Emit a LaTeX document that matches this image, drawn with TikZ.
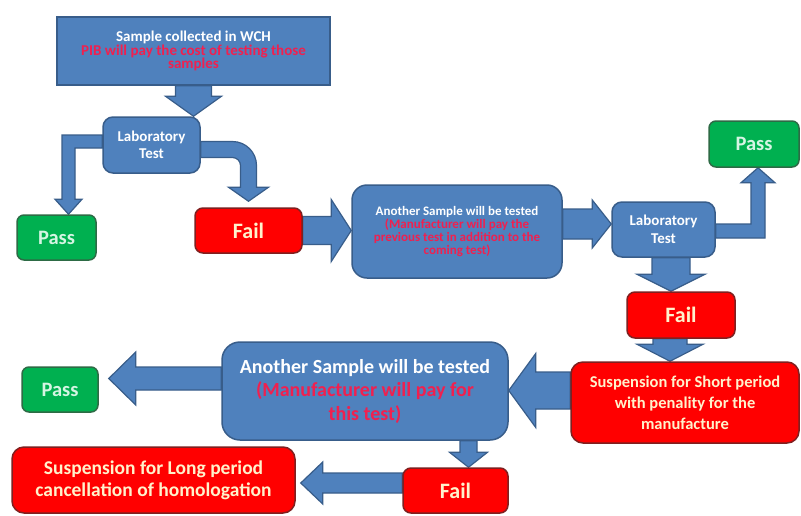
\documentclass[tikz,border=0pt]{standalone}
\usepackage{fontspec}
\setmainfont{Carlito}
\usetikzlibrary{calc,backgrounds}

\definecolor{boxblue}{HTML}{4F81BD}
\definecolor{edgeblue}{HTML}{385D8A}
\definecolor{boxred}{HTML}{FF0000}
\definecolor{edgered}{HTML}{7F2020}
\definecolor{boxgreen}{HTML}{00B050}
\definecolor{edgegreen}{HTML}{2D6B45}
\definecolor{notered}{HTML}{F0204F}
\definecolor{cream}{HTML}{FFF2CC}
\definecolor{mint}{HTML}{D5F5E3}

\newcommand{\tightlines}{\setlength{\lineskiplimit}{-20pt}}

\tikzstyle{bluebox} = [draw=edgeblue, fill=boxblue, line width=1.5pt, rounded corners=10pt, align=center, text=white, inner sep=2pt]
\tikzstyle{passbox} = [draw=edgegreen, fill=boxgreen, line width=1.5pt, rounded corners=7pt, text=mint, font=\bfseries\fontsize{20.5}{24}\selectfont]
\tikzstyle{failbox} = [draw=edgered, fill=boxred, line width=1.5pt, rounded corners=8pt, align=center, text=cream, inner sep=2pt, font=\bfseries\fontsize{22}{26}\selectfont]
\tikzstyle{barrow} = [draw=edgeblue, fill=boxblue, line width=1.2pt, line join=miter]

% block arrow: start, tip, shaft half width, head half width, head length
\newcommand{\blockarrow}[5]{%
  \draw[barrow] let \p1=(#1), \p2=(#2), \n1={veclen(\x2-\x1,\y2-\y1)},
      \n2={(\x2-\x1)/\n1}, \n3={(\y2-\y1)/\n1} in
    ({\x1-(\n3)*#3pt},{\y1+(\n2)*#3pt}) --
    ({\x2-(\n2)*#5pt-(\n3)*#3pt},{\y2-(\n3)*#5pt+(\n2)*#3pt}) --
    ({\x2-(\n2)*#5pt-(\n3)*#4pt},{\y2-(\n3)*#5pt+(\n2)*#4pt}) --
    (\p2) --
    ({\x2-(\n2)*#5pt+(\n3)*#4pt},{\y2-(\n3)*#5pt-(\n2)*#4pt}) --
    ({\x2-(\n2)*#5pt+(\n3)*#3pt},{\y2-(\n3)*#5pt-(\n2)*#3pt}) --
    ({\x1+(\n3)*#3pt},{\y1-(\n2)*#3pt}) -- cycle;}

\begin{document}
\begin{tikzpicture}[x=1pt,y=-1pt]
	\useasboundingbox (0,0) rectangle (801,515);

	\node[bluebox, rounded corners=0pt, minimum width=273pt, minimum height=68pt, font=\bfseries\fontsize{15}{13.5}\selectfont\tightlines] (wch) at (193.5,51) {Sample collected in WCH\\\textcolor{notered}{PIB will pay the cost of testing those}\\\textcolor{notered}{samples}};
	\node[bluebox, minimum width=97pt, minimum height=56pt, font=\bfseries\fontsize{15}{17.5}\selectfont] (lab1) at (151.5,145) {Laboratory\\Test};
	\node[passbox, minimum width=79pt, minimum height=45pt] (pass1) at (56.5,237.5) {Pass};
	\node[failbox, minimum width=107pt, minimum height=45pt] (fail1) at (248.5,230.5) {Fail};
	\node[bluebox, rounded corners=15pt, minimum width=210pt, minimum height=93pt, font=\bfseries\fontsize{13}{13}\selectfont] (retest1) at (457,231.5) {Another Sample will be tested\\\textcolor{notered}{(Manufacturer will pay the}\\\textcolor{notered}{previous test in addition to the}\\\textcolor{notered}{coming test)}};
	\node[bluebox, minimum width=103pt, minimum height=55pt, font=\bfseries\fontsize{15}{17.5}\selectfont] (lab2) at (663.5,229.5) {Laboratory\\Test};
	\node[passbox, minimum width=90pt, minimum height=46pt] (pass2) at (754,144) {Pass};
	\node[failbox, minimum width=108pt, minimum height=46pt] (fail2) at (681,315) {Fail};
	\node[failbox, rounded corners=12pt, minimum width=228pt, minimum height=81pt, font=\bfseries\fontsize{16.5}{21}\selectfont] (shortsus) at (685,402.5) {Suspension for Short period\\with penality for the\\manufacture};
	\node[bluebox, rounded corners=18pt, minimum width=286pt, minimum height=98pt, font=\bfseries\fontsize{20}{23.5}\selectfont] (retest2) at (365,391) {Another Sample will be tested\\\textcolor{notered}{(Manufacturer will pay for}\\\textcolor{notered}{this test)}};
	\node[passbox, minimum width=76pt, minimum height=45pt] (pass3) at (60,389.5) {Pass};
	\node[failbox, minimum width=105pt, minimum height=45pt] (fail3) at (455.5,490.5) {Fail};
	\node[failbox, rounded corners=12pt, minimum width=283pt, minimum height=66pt, font=\bfseries\fontsize{19.5}{22}\selectfont] (longsus) at (153.5,480) {Suspension for Long period\\cancellation of homologation};

	\begin{scope}[on background layer]
	\fill[white] (0,0) rectangle (801,515);

	\blockarrow{wch.south}{wch.south |- lab1.north}{18}{28}{20}
	\draw[barrow] let \p1=($(lab1.west)+(0,-3.5)$), \p2=($(pass1.north)+(12,0)$) in
		(\x1,\y1+6.5pt) -- (\x2-6.5pt,\y1+6.5pt) -- (\x2-6.5pt,\y2+15pt) -- (\x2-13.5pt,\y2+15pt) -- (\p2)
		-- (\x2+13.5pt,\y2+15pt) -- (\x2+6.5pt,\y2+15pt) -- (\x2+6.5pt,\y1-6.5pt) -- (\x1,\y1-6.5pt) -- cycle;
	\draw[barrow] let \p1=($(lab1.east)+(0,4.5)$), \p2=($(fail1.north)+(0,-6)$) in
		(\x1,\y1+8pt) -- (\x2-16pt,\y1+8pt) .. controls (\x2-2.75pt,\y1+8pt) and (\x2+8pt,\y1-2.75pt) .. (\x2+8pt,\y1-16pt)
		-- (\x2+8pt,\y2+14pt) -- (\x2+20pt,\y2+14pt) -- (\p2) -- (\x2-20pt,\y2+14pt) -- (\x2-8pt,\y2+14pt)
		-- (\x2-8pt,\y1-16pt) .. controls (\x2-8pt,\y1-11.6pt) and (\x2-11.6pt,\y1-8pt) .. (\x2-16pt,\y1-8pt)
		-- (\x1,\y1-8pt) -- cycle;
	\blockarrow{fail1.east}{fail1.east -| retest1.west}{14}{31}{20}
	\blockarrow{$(retest1.east)+(0,-7.5)$}{$(retest1.east -| lab2.west)+(0,-7.5)$}{15}{24}{19}
	\draw[barrow] let \p1=($(lab2.east)+(0,1.5)$), \p2=($(pass2.south)+(4,0)$) in
		(\x1,\y1+7pt) -- (\x2-7pt,\y1+7pt) -- (\x2-7pt,\y2-15pt) -- (\x2-17pt,\y2-15pt) -- (\p2)
		-- (\x2+17pt,\y2-15pt) -- (\x2+7pt,\y2-15pt) -- (\x2+7pt,\y1-7pt) -- (\x1,\y1-7pt) -- cycle;
	\blockarrow{$(lab2.south)+(7.5,0)$}{$(lab2.south |- fail2.north)+(7.5,0)$}{19}{34}{17}
	\blockarrow{$(fail2.south)+(-11,0)$}{$(fail2.south |- shortsus.north)+(-11,0)$}{17}{33}{17}
	\blockarrow{$(shortsus.west)+(0,-12)$}{$(shortsus.west -| retest2.east)+(0,-12)$}{18.5}{37}{27}
	\blockarrow{$(retest2.west)+(0,-12.5)$}{$(retest2.west -| pass3.east)+(10,-12.5)$}{11.5}{26.5}{27}
	\blockarrow{$(fail3.north |- retest2.south)+(13,0)$}{$(fail3.north)+(13,0)$}{8.5}{19}{15}
	\blockarrow{$(fail3.west)+(0,-7.5)$}{$(fail3.west -| longsus.east)+(5,-7.5)$}{10}{21}{22}
	\end{scope}
\end{tikzpicture}
\end{document}
